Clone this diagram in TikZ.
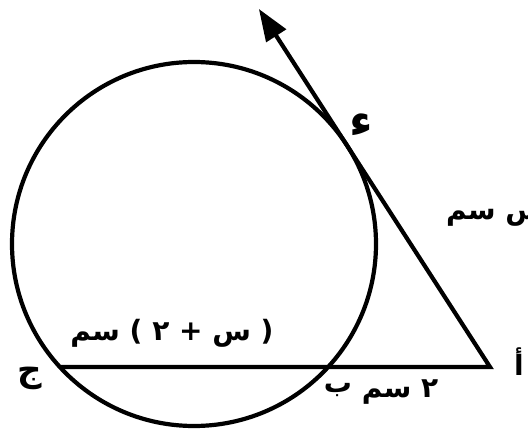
\documentclass[tikz,border=0pt]{standalone}
\usepackage{fontspec}
\newfontfamily\arabicfont[Script=Arabic]{DejaVu Sans}
\TeXXeTstate=1
\usetikzlibrary{arrows.meta,calc}
\tikzset{
  geo/.style={line width=4.2pt, line join=miter},
  lbl/.style={font=\arabicfont\bfseries\fontsize{28}{32}\selectfont, inner sep=0pt, text=black}
}
\begin{document}
\begin{tikzpicture}[x=1pt,y=-1pt]
\useasboundingbox (0,0) rectangle (528,433);
\coordinate (O) at (194,244);
\coordinate (A) at (490,367);
\coordinate (B) at (328.1,367);
\coordinate (C) at (59.9,367);
\coordinate (D) at (346.9,145.3);
\coordinate (E) at ($(A)!1.615!(D)$);
\draw[geo] (O) circle[radius=182pt];
\draw[geo, -{Triangle[length=32pt,width=23pt]}] (C) -- (A) -- (E);
\node[lbl, font=\arabicfont\bfseries\fontsize{46}{48}\selectfont] (d) at (361,125) {ء};
\node[lbl, anchor=west] (x) at (446,218) {\beginR س سم\endR};
\node[lbl] (cb) at (172,333) {\beginR( س + ٢ ) سم\endR};
\node[lbl] (b) at (338,390) {ب};
\node[lbl] (ab) at (400,392) {\beginR٢ سم\endR};
\node[lbl, font=\arabicfont\bfseries\fontsize{34}{36}\selectfont] (c) at (30,378) {ج};
\node[lbl] (a) at (519,362) {أ};
\end{tikzpicture}
\end{document}
